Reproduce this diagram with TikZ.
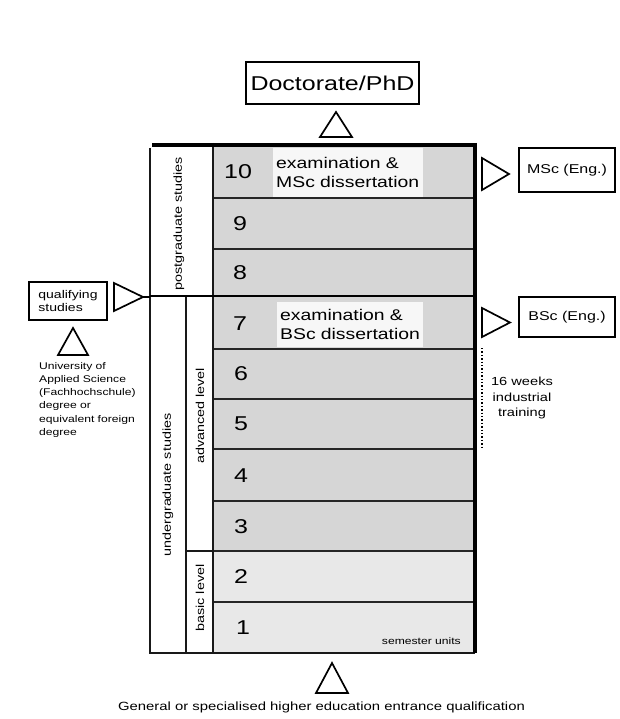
\documentclass[tikz,border=0pt]{standalone}
\usepackage{fontspec}
\setmainfont{Liberation Sans}[FakeStretch=1.25]
\newcommand{\fs}[1]{\fontsize{#1}{#1}\selectfont}
\begin{document}
\begin{tikzpicture}[x=1pt,y=-1pt,
  rowdark/.style={fill=black!16, draw=none, minimum width=260pt, inner sep=0pt, anchor=north west},
  rowlight/.style={fill=black!9, draw=none, minimum width=260pt, inner sep=0pt, anchor=north west},
  sepline/.style={line width=1.2pt, black!85},
  frame/.style={line width=1.3pt, black!90},
  num/.style={font=\fs{20}, inner sep=0pt},
  txtbg/.style={fill=black!3, draw=none, align=left, font=\fontsize{15.5}{18.5}\selectfont, inner xsep=3pt, inner ysep=0pt, anchor=north west},
  outbox/.style={draw, line width=1.5pt, inner sep=0pt},
  tri/.style={draw, line width=1.7pt, line join=miter},
  vlbl/.style={rotate=90, font=\fs{11.5}, inner sep=0pt},
  small/.style={font=\fs{9.7}, align=left, inner sep=0pt}
]
\useasboundingbox (0,0) rectangle (620,719);

% rows
\node[rowdark, minimum height=55pt] (r10) at (213,143) {};
\node[rowdark, minimum height=51pt] (r9) at (213,198) {};
\node[rowdark, minimum height=47pt] (r8) at (213,249) {};
\node[rowdark, minimum height=53pt] (r7) at (213,296) {};
\node[rowdark, minimum height=50pt] (r6) at (213,349) {};
\node[rowdark, minimum height=50pt] (r5) at (213,399) {};
\node[rowdark, minimum height=52pt] (r4) at (213,449) {};
\node[rowdark, minimum height=50pt] (r3) at (213,501) {};
\node[rowlight, minimum height=51pt] (r2) at (213,551) {};
\node[rowlight, minimum height=51pt] (r1) at (213,602) {};

% row separators
\foreach \r in {r9,r8,r6,r5,r4,r3,r2,r1}
  \draw[sepline] (\r.north west) -- (\r.north east);

% text boxes
\node[txtbg, minimum width=150pt, minimum height=49pt, text width=144pt] (ex10) at (273,148) {examination \&\\MSc dissertation};
\node[txtbg, minimum width=146pt, minimum height=45pt, text width=140pt] (ex7) at (277,302) {examination \&\\BSc dissertation};

% numbers
\node[num] (n10) at (238,172) {10};
\node[num] (n9) at (240,224) {9};
\node[num] (n8) at (240,273) {8};
\node[num] (n7) at (240,324) {7};
\node[num] (n6) at (241,374) {6};
\node[num] (n5) at (241,424) {5};
\node[num] (n4) at (241,476) {4};
\node[num] (n3) at (241,527) {3};
\node[num] (n2) at (241,577) {2};
\node[num] (n1) at (243,628) {1};

\node[font=\fs{9.7}, inner sep=0pt, anchor=east] (su) at (461,641) {semester units};

% frame lines
\draw[frame] (150,148) -- (150,653) -- (475,653);
\draw[frame] (213,143) -- (213,653);
\draw[frame] (186,296) -- (186,653);
\draw[frame] (186,551) -- (213,551);
\draw[line width=2.4pt] (150,296) -- (475,296);
\draw[line width=4pt] (152,145) -- (475,145);
\draw[line width=4pt] (475,143) -- (475,653);

% column labels
\node[vlbl] (pg) at (179,224) {postgraduate studies};
\node[vlbl] (ug) at (168,485) {undergraduate studies};
\node[vlbl] (al) at (200,416) {advanced level};
\node[vlbl] (bl) at (200,598) {basic level};

% top: doctorate
\node[outbox, minimum width=173pt, minimum height=42pt, font=\fs{20}] (phd) at (332.5,83) {Doctorate/PhD};
\draw[tri] (320,137) -- (352,137) -- (336,112) -- cycle;

% right: MSc / BSc
\node[outbox, minimum width=96pt, minimum height=44pt, font=\fs{12.8}] (msc) at (567,170) {MSc (Eng.)};
\node[outbox, minimum width=96pt, minimum height=40pt, font=\fs{12.8}] (bsc) at (567,317) {BSc (Eng.)};
\draw[tri] (482,158) -- (482,190) -- (509,174) -- cycle;
\draw[tri] (482,308) -- (482,337) -- (510,322.5) -- cycle;

% industrial training
\coordinate (dt) at (482,348);
\coordinate (db) at (482,448);
\draw[line width=1.4pt, dash pattern=on 1.4pt off 2pt] (dt) -- (db);
\node[font=\fs{11.7}, align=center, inner sep=0pt] (iw) at (522,398) {16 weeks\\[4pt]industrial\\[4pt]training};

% left: qualifying studies
\node[outbox, minimum width=78pt, minimum height=38pt, font=\fs{11.2}, align=left] (qs) at (68,301) {qualifying\\[2pt]studies};
\draw[tri] (114,283) -- (114,311) -- (143,297) -- cycle;
\coordinate (qtip) at (143,297);
\coordinate (qend) at (150,297);
\draw[line width=1.3pt] (qtip) -- (qend);
\draw[tri] (58,355) -- (88,355) -- (73,328) -- cycle;
\node[small, anchor=north west, text width=110pt] (uas) at (39,362) {University of\\[3.5pt]Applied Science\\[3.5pt](Fachhochschule)\\[3.5pt]degree or\\[3.5pt]equivalent foreign\\[3.5pt]degree};

% bottom
\draw[tri] (316,693) -- (348,693) -- (332,663) -- cycle;
\node[font=\fs{11.9}, inner sep=0pt] (geq) at (321.5,707) {General or specialised higher education entrance qualification};
\end{tikzpicture}
\end{document}
